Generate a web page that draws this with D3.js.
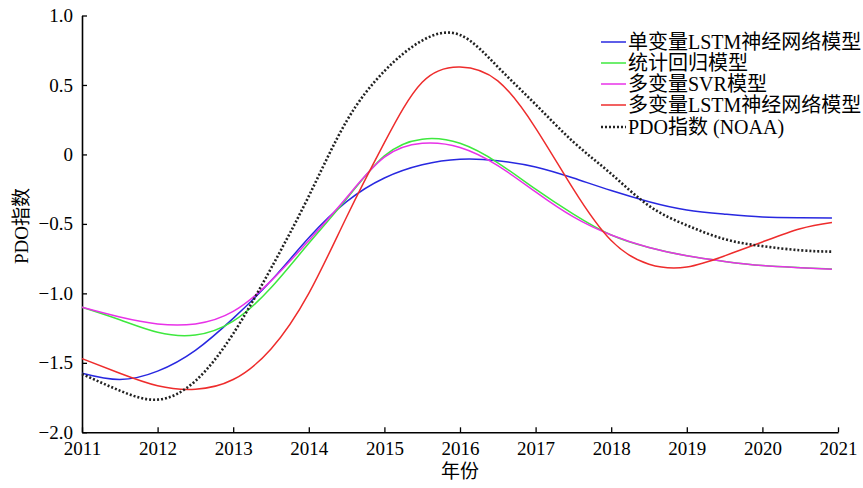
<!DOCTYPE html>
<html><head><meta charset="utf-8">
<script src="https://cdn.jsdelivr.net/npm/d3@7"></script>
<style>
body{margin:0;background:#fff;}
text{font-family:"Liberation Serif","Times New Roman","Noto Sans CJK SC",serif;fill:#000;}
</style></head>
<body><svg id="c" width="863" height="488"></svg>
<script>
const years = [2011,2011.5,2012,2012.5,2013,2013.5,2014,2014.5,2015,2015.5,2016,2016.5,2017,2017.5,2018,2018.5,2019,2019.5,2020,2020.5,2020.92];
const seriesNames = ["单变量LSTM神经网络模型","统计回归模型","多变量SVR模型","多变量LSTM神经网络模型","PDO指数 (NOAA)"];
const uniLSTM = [-1.575,-1.62,-1.56,-1.41,-1.18,-0.91,-0.60,-0.34,-0.17,-0.075,-0.035,-0.045,-0.09,-0.17,-0.26,-0.34,-0.40,-0.43,-0.45,-0.455,-0.457];
const regress = [-1.10,-1.19,-1.28,-1.30,-1.20,-0.96,-0.64,-0.32,-0.01,0.11,0.08,-0.06,-0.25,-0.43,-0.58,-0.67,-0.73,-0.77,-0.80,-0.815,-0.825];
const svr     = [-1.10,-1.17,-1.22,-1.22,-1.13,-0.91,-0.62,-0.31,-0.02,0.08,0.05,-0.08,-0.27,-0.45,-0.58,-0.67,-0.73,-0.77,-0.80,-0.815,-0.827];
const multiLSTM = [-1.47,-1.575,-1.665,-1.69,-1.62,-1.40,-1.00,-0.45,0.085,0.52,0.63,0.53,0.19,-0.25,-0.62,-0.79,-0.81,-0.73,-0.63,-0.535,-0.49];
const pdo     = [-1.58,-1.70,-1.765,-1.63,-1.29,-0.82,-0.30,0.24,0.60,0.82,0.86,0.63,0.36,0.09,-0.14,-0.37,-0.51,-0.61,-0.66,-0.69,-0.70];
const xTicks = [2011,2012,2013,2014,2015,2016,2017,2018,2019,2020,2021];
const yTicks = [-2.0,-1.5,-1.0,-0.5,0,0.5,1.0];
const yTickLabels = ["−2.0","−1.5","−1.0","−0.5","0","0.5","1.0"];
const colors = ["#2828e0","#3ee83e","#e832e8","#ee2c2c","#222"];

const svg = d3.select("#c");
const x = d3.scaleLinear().domain([2011,2021]).range([82,838]);
const y = d3.scaleLinear().domain([-2,1]).range([432.3,15.5]);

// axes
const xAxis = d3.axisBottom(x).tickValues(xTicks).tickFormat(d3.format("d")).tickSizeInner(-5).tickSizeOuter(0).tickPadding(9);
const gx = svg.append("g").attr("transform",`translate(0,${y(-2)})`).call(xAxis);
const yAxis = d3.axisLeft(y).tickValues(yTicks).tickFormat((d,i)=>yTickLabels[i]).tickSizeInner(-5).tickSizeOuter(0).tickPadding(9);
const gy = svg.append("g").attr("transform",`translate(${x(2011)},0)`).call(yAxis);
[gx,gy].forEach(g=>{
  g.select(".domain").attr("stroke","#000").attr("stroke-width",1.6);
  g.selectAll(".tick line").attr("stroke","#000").attr("stroke-width",1.3);
  g.selectAll(".tick text").attr("font-family",null).style("font-size","19px").style("font-family","'Liberation Serif','Times New Roman',serif");
});
gx.selectAll(".tick text").attr("dy","0.71em");

// lines
const data = [uniLSTM,regress,svr,multiLSTM,pdo];
const line = d3.line().x((d,i)=>x(years[i])).y(d=>y(d)).curve(d3.curveNatural);
data.forEach((vals,k)=>{
  const p = svg.append("path").datum(vals).attr("d",line).attr("fill","none")
    .attr("stroke",colors[k]).attr("stroke-width",k===4?2.6:1.5);
  if(k===4) p.attr("stroke-dasharray","2,2");
});

// axis titles
svg.append("text").attr("x",460).attr("y",478).attr("text-anchor","middle").style("font-size","19px").text("年份");
svg.append("text").attr("transform","translate(28,226) rotate(-90)").attr("text-anchor","middle").style("font-size","19px").text("PDO指数");

// legend
const legY = [42,63,84,105,127];
seriesNames.forEach((n,k)=>{
  const g = svg.append("g");
  const ln = g.append("line").attr("x1",601).attr("x2",626).attr("y1",legY[k]).attr("y2",legY[k])
    .attr("stroke",colors[k]).attr("stroke-width",k===4?2.6:1.5);
  if(k===4) ln.attr("stroke-dasharray","2,2");
  g.append("text").attr("x",628).attr("y",legY[k]).attr("dy","0.35em").style("font-size","20px").text(n);
});
</script></body></html>
